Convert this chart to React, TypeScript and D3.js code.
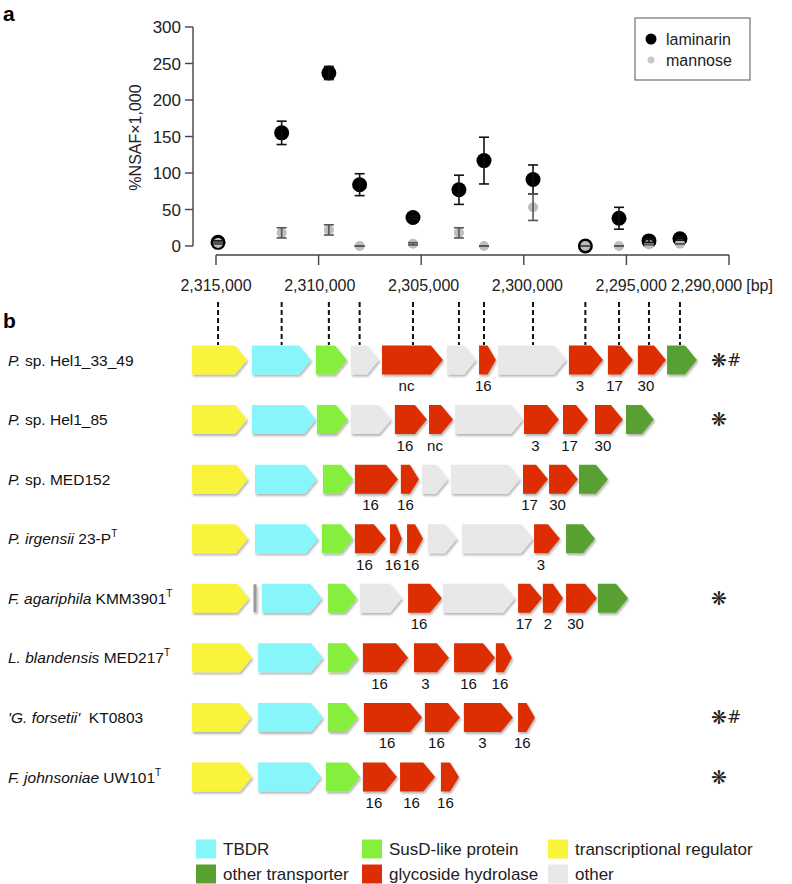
import React from 'react';
import * as d3 from 'd3';

// ---------- panel a data ----------
const positions = [2314900, 2311800, 2309500, 2308000, 2305400, 2303160, 2301940, 2299550, 2297000, 2295360, 2293900, 2292390];
const laminarin = [5, 155, 237, 84, 39, 77, 117, 91, 0, 38, 7, 10];
const laminarinErr = [2, 16, 9, 15, 2, 20, 32, 20, 0, 15, 2, 2];
const mannose = [4, 18, 22, 0, 3, 18, 0, 53, 0, 0, 2, 3];
const mannoseErr = [1, 7, 7, 0, 1.5, 7, 0, 18, 0, 0, 0, 0];
const yTicks = [0, 50, 100, 150, 200, 250, 300];
const xTicks = [2315000, 2310000, 2305000, 2300000, 2295000, 2290000];

// ---------- panel b data ----------
type Gene = [number, number, string, string?];
const speciesNames = ['Hel1_33_49', 'Hel1_85', 'MED152', 'irgensii', 'agariphila', 'blandensis', 'forsetii', 'johnsoniae'];
const speciesLabels: [string, boolean, boolean][][] = [
  [['P.', true, false], [' sp. Hel1_33_49', false, false]],
  [['P.', true, false], [' sp. Hel1_85', false, false]],
  [['P.', true, false], [' sp. MED152', false, false]],
  [['P. irgensii', true, false], [' 23-P', false, false], ['T', false, true]],
  [['F. agariphila', true, false], [' KMM3901', false, false], ['T', false, true]],
  [['L. blandensis', true, false], [' MED217', false, false], ['T', false, true]],
  [["'G. forsetii'", true, false], ['  KT0803', false, false]],
  [['F. johnsoniae', true, false], [' UW101', false, false], ['T', false, true]],
];
const speciesMarks = ['*#', '*', '', '', '*', '', '*#', '*'];
// gene start / end in kb from locus start
const geneMaps: Gene[][] = [
  [[0, 2.68, 'reg'], [2.92, 5.80, 'tbdr'], [6.04, 7.55, 'susd'], [7.75, 9.11, 'other'], [9.26, 12.23, 'gh', 'nc'], [12.43, 13.84, 'other'], [13.99, 14.81, 'gh', '16'], [14.91, 18.23, 'other'], [18.37, 20.03, 'gh', '3'], [20.27, 21.49, 'gh', '17'], [21.73, 23.10, 'gh', '30'], [23.15, 24.61, 'trans']],
  [[0, 2.68, 'reg'], [2.92, 6.04, 'tbdr'], [6.09, 7.60, 'susd'], [7.75, 9.70, 'other'], [9.89, 11.45, 'gh', '16'], [11.55, 12.72, 'gh', 'nc'], [12.82, 16.13, 'other'], [16.18, 17.88, 'gh', '3'], [18.08, 19.30, 'gh', '17'], [19.64, 21.00, 'gh', '30'], [21.15, 22.51, 'trans']],
  [[0, 2.73, 'reg'], [3.07, 6.09, 'tbdr'], [6.38, 7.85, 'susd'], [7.94, 10.04, 'gh', '16'], [10.18, 11.06, 'gh', '16'], [11.21, 12.47, 'other'], [12.62, 15.98, 'other'], [16.13, 17.35, 'gh', '17'], [17.40, 18.81, 'gh', '30'], [18.86, 20.27, 'trans']],
  [[0, 2.73, 'reg'], [3.07, 6.14, 'tbdr'], [6.33, 7.85, 'susd'], [7.94, 9.45, 'gh', '16'], [9.65, 10.23, 'gh', '16'], [10.48, 11.26, 'gh', '16'], [11.50, 12.91, 'other'], [13.16, 16.62, 'other'], [16.67, 17.93, 'gh', '3'], [18.23, 19.64, 'trans']],
  [[0, 2.78, 'reg'], [3.07, 3.07, 'bar'], [3.41, 6.33, 'tbdr'], [6.63, 8.04, 'susd'], [8.19, 10.23, 'other'], [10.53, 12.18, 'gh', '16'], [12.23, 15.74, 'other'], [15.89, 17.06, 'gh', '17'], [17.10, 18.08, 'gh', '2'], [18.23, 19.74, 'gh', '30'], [19.78, 21.25, 'trans']],
  [[0, 2.92, 'reg'], [3.22, 6.38, 'tbdr'], [6.63, 8.09, 'susd'], [8.33, 10.53, 'gh', '16'], [10.82, 12.52, 'gh', '3'], [12.77, 14.77, 'gh', '16'], [14.81, 15.59, 'gh', '16']],
  [[0, 2.88, 'reg'], [3.22, 6.38, 'tbdr'], [6.63, 8.09, 'susd'], [8.38, 11.21, 'gh', '16'], [11.35, 13.06, 'gh', '16'], [13.25, 15.64, 'gh', '3'], [15.89, 16.71, 'gh', '16']],
  [[0, 2.92, 'reg'], [3.22, 6.29, 'tbdr'], [6.53, 8.19, 'susd'], [8.33, 9.99, 'gh', '16'], [10.14, 11.85, 'gh', '16'], [12.13, 13.01, 'gh', '16']],
];
const geneColors: Record<string, string> = {
  tbdr: '#86F6FA',
  susd: '#86EF3E',
  reg: '#F9F43A',
  trans: '#58A030',
  gh: '#DC2E06',
  other: '#E8E8E8',
  bar: '#9A9A9A',
};
const legendKeys = ['tbdr', 'trans', 'susd', 'gh', 'reg', 'other'];
const legendLabels = ['TBDR', 'other transporter', 'SusD-like protein', 'glycoside hydrolase', 'transcriptional regulator', 'other'];

const FONT = "'Liberation Sans', Arial, Helvetica, sans-serif";

export default function App() {
  const W = 792, H = 884;
  const xBp = d3.scaleLinear().domain([2315000, 2290000]).range([216, 729]);
  const y = d3.scaleLinear().domain([0, 300]).range([246, 27]);
  const geneX = d3.scaleLinear().domain([0, 25]).range([192, 705]);
  const rowY = d3.scalePoint<string>().domain(speciesNames).range([360, 777]);
  const fmt = d3.format(',');
  const axisX = 193;
  const axisY = 255;
  const halfH = 14.5;

  const arrowPath = (x0: number, x1: number, yc: number) => {
    const tip = Math.min(12, (x1 - x0) * 0.5);
    const p = d3.path();
    p.moveTo(x0, yc - halfH);
    p.lineTo(x1 - tip, yc - halfH);
    p.lineTo(x1, yc);
    p.lineTo(x1 - tip, yc + halfH);
    p.lineTo(x0, yc + halfH);
    p.closePath();
    return p.toString();
  };

  const errBar = (i: number, vals: number[], errs: number[], color: string) => {
    const cx = xBp(positions[i]);
    const lo = y(vals[i] - errs[i]);
    const hi = y(vals[i] + errs[i]);
    return (
      <g key={i} stroke={color} strokeWidth={1.6}>
        <line x1={cx} x2={cx} y1={lo} y2={hi} />
        <line x1={cx - 5} x2={cx + 5} y1={lo} y2={lo} />
        <line x1={cx - 5} x2={cx + 5} y1={hi} y2={hi} />
      </g>
    );
  };

  return (
    <svg width={W} height={H} style={{ position: 'absolute', left: 0, top: 0, display: 'block', background: '#fff' }} fontFamily={FONT}>
      <defs>
        <filter id="shadow" x="-20%" y="-30%" width="140%" height="170%">
          <feDropShadow dx="1.2" dy="2" stdDeviation="1.2" floodColor="#000" floodOpacity="0.3" />
        </filter>
      </defs>
      <rect width={W} height={H} fill="#fff" />

      {/* panel labels */}
      <text x={3} y={21} fontSize={21} fontWeight="bold">a</text>
      <text x={3} y={328} fontSize={21} fontWeight="bold">b</text>

      {/* y axis */}
      <g stroke="#444" strokeWidth={1.4}>
        <line x1={axisX} x2={axisX} y1={y(0)} y2={y(300)} />
        {yTicks.map((t) => (
          <line key={t} x1={axisX - 8} x2={axisX} y1={y(t)} y2={y(t)} />
        ))}
      </g>
      {yTicks.map((t) => (
        <text key={t} x={axisX - 12} y={y(t) + 6} fontSize={17} textAnchor="end" fill="#222">{t}</text>
      ))}
      <text transform={`translate(141,${(y(0) + y(300)) / 2 + 1}) rotate(-90)`} fontSize={16} textAnchor="middle" fill="#222">%NSAF×1,000</text>

      {/* x axis */}
      <g stroke="#444" strokeWidth={1.4}>
        <line x1={xBp(xTicks[0])} x2={xBp(xTicks[xTicks.length - 1])} y1={axisY} y2={axisY} />
        {xTicks.map((t) => (
          <line key={t} x1={xBp(t)} x2={xBp(t)} y1={axisY} y2={axisY + 10} />
        ))}
      </g>
      {xTicks.map((t, i) =>
        i < xTicks.length - 1 ? (
          <text key={t} x={xBp(t) + i * 1.2} y={291} fontSize={16} textAnchor="middle" fill="#222">{fmt(t)}</text>
        ) : (
          <text key={t} x={xBp(t) - 7} y={291} fontSize={16} textAnchor="middle" fill="#222">
            {fmt(t)}
            <tspan dx={4}>[bp]</tspan>
          </text>
        )
      )}

      {/* dashed connectors */}
      {positions.map((p, i) => (
        <line key={i} x1={xBp(p)} x2={xBp(p)} y1={302} y2={345} stroke="#111" strokeWidth={2} strokeDasharray="5,3" />
      ))}

      {/* laminarin points */}
      {positions.map((p, i) => (
        <circle key={'l' + i} cx={xBp(p)} cy={y(laminarin[i])} r={7.5} fill="#000" />
      ))}
      {/* mannose points */}
      {positions.map((p, i) => (
        <circle key={'m' + i} cx={xBp(p)} cy={y(mannose[i])} r={5} fill="#BDBDBD" />
      ))}
      {positions.map((_, i) => errBar(i, laminarin, laminarinErr, '#111'))}
      {positions.map((_, i) => errBar(i, mannose, mannoseErr, '#555'))}

      {/* legend a */}
      <rect x={635} y={18} width={115} height={62} fill="#fff" stroke="#555" strokeWidth={1} />
      <circle cx={651} cy={39} r={5.5} fill="#000" />
      <circle cx={651} cy={60} r={3.5} fill="#C8C8C8" />
      <text x={666} y={44.5} fontSize={16} fill="#222">laminarin</text>
      <text x={666} y={65.5} fontSize={16} fill="#222">mannose</text>

      {/* panel b rows */}
      {speciesNames.map((name, r) => {
        const yc = rowY(name) as number;
        return (
          <g key={name}>
            <text x={8} y={yc + 5.5} fontSize={15.5} fill="#111">
              {speciesLabels[r].map(([txt, it, sup], k) => (
                <tspan key={k} fontStyle={it ? 'italic' : 'normal'} fontSize={sup ? 10 : 15.5} dy={sup ? -7 : 0} xmlSpace="preserve">
                  {txt}
                </tspan>
              ))}
            </text>
            <g filter="url(#shadow)">
              {geneMaps[r].map(([s, e, type], k) =>
                type === 'bar' ? (
                  <rect key={k} x={geneX(s) - 1.5} y={yc - 14} width={3} height={28} fill={geneColors.bar} />
                ) : (
                  <path key={k} d={arrowPath(geneX(s), geneX(e), yc)} fill={geneColors[type]} />
                )
              )}
            </g>
            {geneMaps[r].map(([s, e, , lab], k) => {
              if (!lab) return null;
              const x0 = geneX(s), x1 = geneX(e);
              const tip = Math.min(12, (x1 - x0) * 0.5);
              return (
                <text key={'t' + k} x={(x0 + x1 - tip) / 2} y={yc + 31} fontSize={15} textAnchor="middle" fill="#111">{lab}</text>
              );
            })}
            {speciesMarks[r] && (
              <g>
                <text x={719} y={yc + 6.5} fontSize={19} textAnchor="middle" fill="#222" fontFamily="'DejaVu Sans', sans-serif">❋</text>
                {speciesMarks[r].includes('#') && (
                  <text x={734} y={yc + 6} fontSize={17} textAnchor="middle" fill="#222" fontFamily="'DejaVu Sans', sans-serif">#</text>
                )}
              </g>
            )}
          </g>
        );
      })}

      {/* legend b */}
      {legendKeys.map((k, i) => {
        const col = Math.floor(i / 2);
        const row = i % 2;
        const sx = [196, 362, 548][col];
        const cy = 849 + row * 25;
        return (
          <g key={k}>
            <rect x={sx} y={cy - 9.5} width={20} height={19} fill={geneColors[k]} />
            <text x={sx + 27} y={cy + 6} fontSize={17} fill="#222">{legendLabels[i]}</text>
          </g>
        );
      })}
    </svg>
  );
}
